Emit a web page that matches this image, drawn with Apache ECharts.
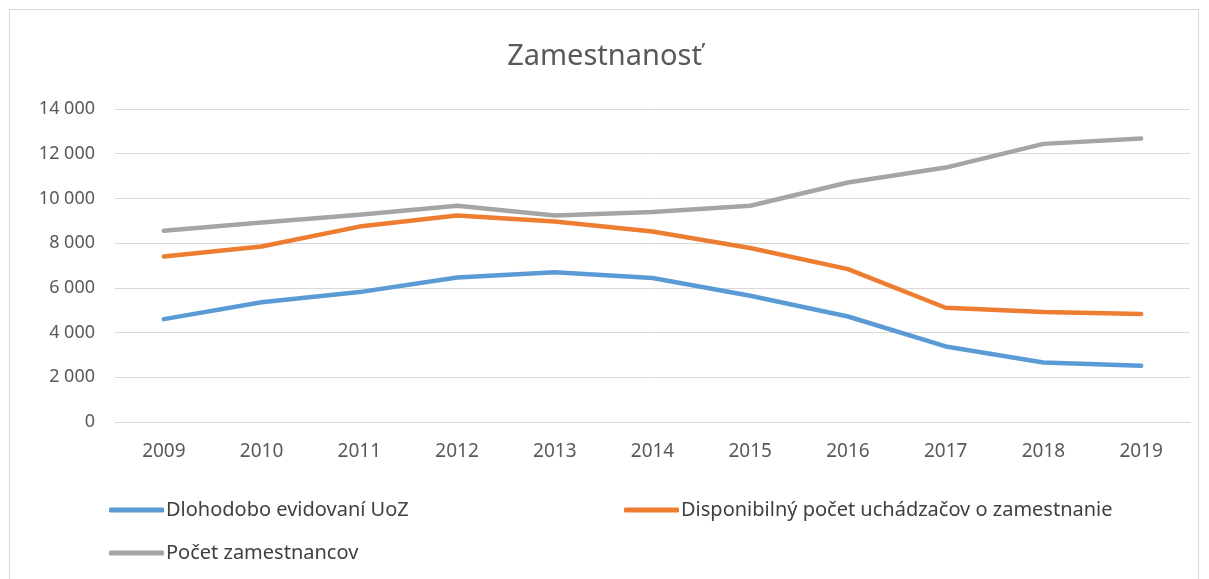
<!DOCTYPE html>
<html>
<head>
<meta charset="utf-8">
<script src="https://cdn.jsdelivr.net/npm/echarts@6/dist/echarts.min.js"></script>
<style>
    html, body { margin: 0; padding: 0; background: #fff; }
    #frame { position: absolute; left: 9px; top: 9px; width: 1190px; height: 570px; border: 1px solid #d9d9d9; border-bottom: none; box-sizing: border-box; }
    #chart { position: absolute; left: 0; top: 0; width: 1209px; height: 579px; }
</style>
</head>
<body>
<div id="frame"></div>
<div id="chart"></div>
<script>
var years = ['2009', '2010', '2011', '2012', '2013', '2014', '2015', '2016', '2017', '2018', '2019'];
var dlhodobo = [4600, 5360, 5810, 6460, 6700, 6440, 5650, 4720, 3380, 2660, 2520];
var disponibilny = [7400, 7850, 8740, 9240, 8970, 8520, 7780, 6840, 5110, 4920, 4830];
var zamestnanci = [8550, 8920, 9270, 9670, 9240, 9390, 9670, 10710, 11380, 12440, 12680];
var names = ['Dlohodobo evidovaní UoZ', 'Disponibilný počet uchádzačov o zamestnanie', 'Počet zamestnancov'];
var colors = ['#5B9BD5', '#ED7D31', '#A5A5A5'];

var chartDom = document.getElementById('chart');
var myChart = echarts.init(chartDom);

function legendFor(name, left, top) {
    return {
        data: [name],
        left: left,
        top: top,
        icon: 'roundRect',
        itemWidth: 55,
        itemHeight: 5,
        itemGap: 0,
        textStyle: {
            fontFamily: 'Noto Sans',
            fontSize: 20,
            color: '#404040',
            padding: [0, 0, 0, -3]
        },
        selectedMode: false
    };
}

function line(name, data, color) {
    return {
        name: name,
        type: 'line',
        data: data,
        symbol: 'none',
        lineStyle: { width: 4.5, color: color, cap: 'round', join: 'round' },
        itemStyle: { color: color },
        animation: false
    };
}

var option = {
    animation: false,
    title: {
        text: 'Zamestnanosť',
        left: 'center',
        top: 37,
        textStyle: {
            fontFamily: 'Noto Sans',
            fontSize: 29,
            fontWeight: 'normal',
            color: '#595959'
        }
    },
    legend: [
        legendFor(names[0], 104, 495),
        legendFor(names[1], 619, 495),
        legendFor(names[2], 104, 538)
    ],
    grid: {
        left: 115,
        right: 19,
        top: 109,
        bottom: 157,
        containLabel: false
    },
    xAxis: {
        type: 'category',
        data: years,
        boundaryGap: true,
        axisLine: { show: true, lineStyle: { color: '#d9d9d9', width: 1 } },
        axisTick: { show: false },
        axisLabel: {
            fontFamily: 'Noto Sans',
            fontSize: 19,
            color: '#595959',
            margin: 20
        }
    },
    yAxis: {
        type: 'value',
        min: 0,
        max: 14000,
        interval: 2000,
        axisLine: { show: false },
        axisTick: { show: false },
        splitLine: { lineStyle: { color: '#d9d9d9', width: 1 } },
        axisLabel: {
            fontFamily: 'Noto Sans',
            fontSize: 18,
            color: '#595959',
            margin: 20,
            formatter: function (v) {
                return String(v).replace(/\B(?=(\d{3})+(?!\d))/g, ' ');
            }
        }
    },
    series: [
        line(names[0], dlhodobo, colors[0]),
        line(names[1], disponibilny, colors[1]),
        line(names[2], zamestnanci, colors[2])
    ]
};
myChart.setOption(option);
</script>
</body>
</html>
